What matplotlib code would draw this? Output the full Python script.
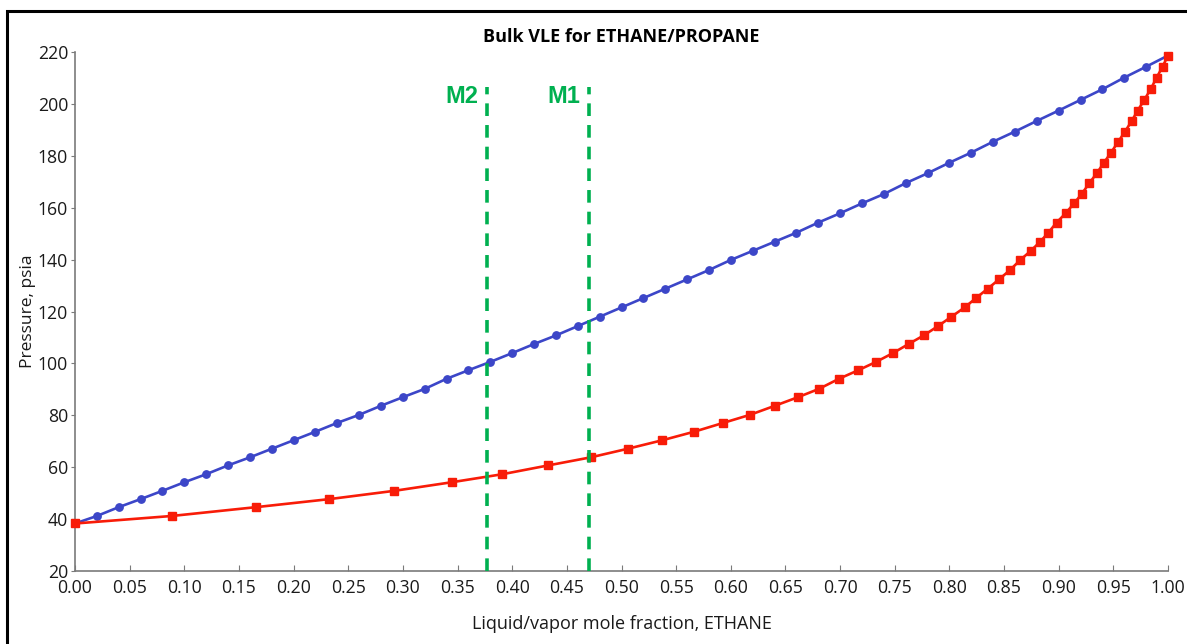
import numpy as np
import matplotlib.pyplot as plt
from matplotlib.patches import Rectangle

plt.rcParams['font.family'] = ['Open Sans', 'DejaVu Sans']

# liquid mole fraction of ethane (bubble curve)
x_liq = [0.00, 0.02, 0.04, 0.06, 0.08, 0.10, 0.12, 0.14, 0.16, 0.18,
         0.20, 0.22, 0.24, 0.26, 0.28, 0.30, 0.32, 0.34, 0.36, 0.38,
         0.40, 0.42, 0.44, 0.46, 0.48, 0.50, 0.52, 0.54, 0.56, 0.58,
         0.60, 0.62, 0.64, 0.66, 0.68, 0.70, 0.72, 0.74, 0.76, 0.78,
         0.80, 0.82, 0.84, 0.86, 0.88, 0.90, 0.92, 0.94, 0.96, 0.98, 1.00]
# vapor mole fraction of ethane at the same pressures (dew curve)
y_vap = [0.0, 0.0885, 0.1656, 0.2327, 0.2922, 0.3446, 0.391, 0.433, 0.4718, 0.5056,
         0.5374, 0.5666, 0.5932, 0.6176, 0.6404, 0.6615, 0.6807, 0.699, 0.7167, 0.7329,
         0.7484, 0.7627, 0.7765, 0.7896, 0.8018, 0.814, 0.8243, 0.835, 0.8454, 0.8554,
         0.8649, 0.8744, 0.883, 0.8905, 0.898, 0.9064, 0.914, 0.921, 0.928, 0.9348,
         0.9414, 0.9479, 0.9545, 0.9607, 0.9668, 0.9723, 0.9783, 0.9841, 0.9896, 0.995, 1.0]
# pressure, psia
pressure = [38.3, 41.2, 44.6, 47.7, 50.9, 54.2, 57.3, 60.7, 63.8, 67.1,
            70.4, 73.7, 77.1, 80.2, 83.7, 87.0, 90.2, 94.1, 97.4, 100.6,
            104.0, 107.5, 110.8, 114.4, 118.0, 121.6, 125.2, 128.8, 132.4, 136.0,
            139.9, 143.4, 146.9, 150.4, 154.3, 157.9, 161.7, 165.3, 169.5, 173.3,
            177.4, 181.3, 185.5, 189.4, 193.5, 197.5, 201.6, 205.7, 210.2, 214.4, 218.7]

markers_x = [0.377, 0.470]
markers_lbl = ["M2", "M1"]
marker_top = 206.6

fig = plt.figure(figsize=(11.87, 6.44), dpi=100)
ax = fig.add_axes([0.0632, 0.1134, 0.9208, 0.8056])

blue = '#3c46c8'
red = '#f81c08'
green = '#00b050'

ax.plot(x_liq, pressure, '-o', color=blue, lw=1.9, ms=5.3, clip_on=False, zorder=3)
ax.plot(y_vap, pressure, '-s', color=red, lw=1.9, ms=5.3, clip_on=False, zorder=3)

for xm, lbl in zip(markers_x, markers_lbl):
    ax.plot([xm, xm], [20, marker_top], '--', color=green, lw=2.6,
            dashes=(3.5, 2.5), zorder=4, clip_on=False)
    ax.text(xm - 0.008, marker_top - 3.5, lbl, color=green, fontsize=17,
            fontweight='bold', family='Liberation Sans', ha='right', va='center')

ax.set_xlim(0, 1)
ax.set_ylim(20, 220)
ax.set_xticks(np.arange(0, 1.0001, 0.05))
ax.set_xticklabels([f"{v:.2f}" for v in np.arange(0, 1.0001, 0.05)])
ax.set_yticks(np.arange(20, 221, 20))

for s in ['top', 'right']:
    ax.spines[s].set_visible(False)
for s in ['left', 'bottom']:
    ax.spines[s].set_color('#7a7a7a')
    ax.spines[s].set_linewidth(1.2)
ax.tick_params(axis='x', direction='in', length=4, color='#7a7a7a',
               labelsize=12.7, labelcolor='#1a1a1a', pad=6)
ax.tick_params(axis='y', direction='out', length=3, color='#7a7a7a',
               labelsize=12.7, labelcolor='#1a1a1a', pad=2)

ax.set_title("Bulk VLE for ETHANE/PROPANE", fontsize=13, fontweight='bold', pad=7)
ax.set_xlabel("Liquid/vapor mole fraction, ETHANE", fontsize=13, color='#1a1a1a')
ax.set_ylabel("Pressure, psia", fontsize=12.5, color='#1a1a1a')
ax.xaxis.set_label_coords(0.5, -0.085)
ax.yaxis.set_label_coords(-0.036, 0.5)

# outer frame
fig.patches.append(Rectangle((7 / 1187, -0.05), 1.1, (644 - 11) / 644 + 0.05,
                             transform=fig.transFigure, fill=False,
                             edgecolor='black', lw=2.2))

fig.savefig("out.png", dpi=100)
